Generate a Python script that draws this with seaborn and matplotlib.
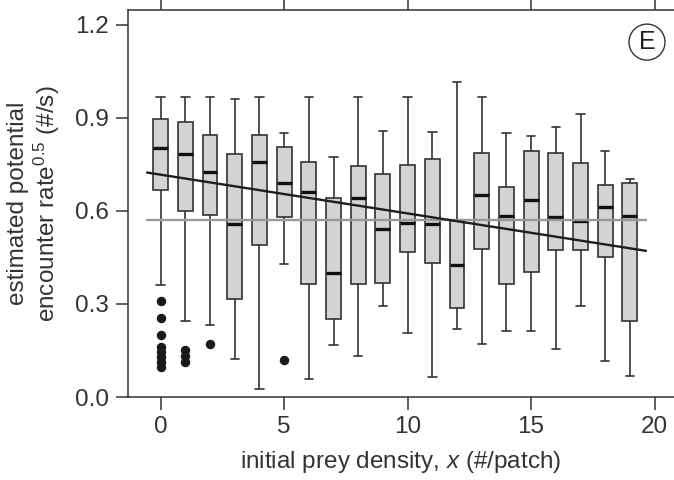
import numpy as np
import pandas as pd
import matplotlib
matplotlib.use("Agg")
import matplotlib.pyplot as plt
import seaborn as sns

# box summaries, one entry per initial prey density 0..19
density = list(range(20))
whisk_lo = [0.361, 0.246, 0.232, 0.124, 0.025, 0.429, 0.057, 0.168, 0.132, 0.295,
            0.205, 0.066, 0.218, 0.170, 0.214, 0.214, 0.154, 0.295, 0.116, 0.068]
q1 = [0.668, 0.600, 0.587, 0.315, 0.489, 0.582, 0.366, 0.252, 0.365, 0.369,
      0.467, 0.431, 0.286, 0.476, 0.363, 0.402, 0.474, 0.474, 0.451, 0.246]
median = [0.804, 0.783, 0.727, 0.557, 0.757, 0.689, 0.661, 0.399, 0.641, 0.541,
          0.560, 0.557, 0.426, 0.653, 0.585, 0.634, 0.580, 0.567, 0.613, 0.585]
q3 = [0.897, 0.888, 0.845, 0.784, 0.845, 0.806, 0.757, 0.642, 0.746, 0.718,
      0.748, 0.769, 0.566, 0.788, 0.676, 0.794, 0.786, 0.754, 0.685, 0.690]
whisk_hi = [0.967, 0.967, 0.967, 0.962, 0.967, 0.851, 0.967, 0.773, 0.967, 0.858,
            0.969, 0.854, 1.017, 0.969, 0.852, 0.842, 0.871, 0.914, 0.794, 0.702]
outliers = {
    0: [0.310, 0.254, 0.200, 0.162, 0.146, 0.130, 0.114, 0.098],
    1: [0.152, 0.132, 0.114],
    2: [0.170],
    5: [0.119],
}

# fitted trend and overall mean
fit_intercept = 0.717
fit_slope = -0.0125
mean_rate = 0.572

# rebuild samples that give exactly these quartiles / whiskers
rows = []
for i, x in enumerate(density):
    vals = ([whisk_lo[i]] + [q1[i]] * 20 + [median[i]] * 20 + [q3[i]] * 20
            + [whisk_hi[i]] + outliers.get(x, []))
    for v in vals:
        rows.append({"x": x, "y": v, "has_out": x in outliers})
df = pd.DataFrame(rows)

sns.set_style("ticks")
plt.rcParams["font.family"] = ["Liberation Sans", "DejaVu Sans"]
plt.rcParams["mathtext.fontset"] = "custom"
plt.rcParams["mathtext.rm"] = "Liberation Sans"
plt.rcParams["mathtext.it"] = "Liberation Sans:italic"

edge = "#333333"
fig = plt.figure(figsize=(6.74, 4.8), dpi=100)
# axes run past the right edge of the canvas, as in the cropped original
ax = fig.add_axes([128 / 674, 83 / 480, 566 / 674, 387 / 480])

box_kws = dict(
    orient="x", native_scale=True, width=0.6, color="#d3d3d3", linecolor=edge,
    linewidth=1.2, capwidths=0.34, ax=ax,
    medianprops=dict(color="#111111", linewidth=2.4),
    flierprops=dict(marker="o", markerfacecolor="#1a1a1a",
                    markeredgecolor="#1a1a1a", markersize=5.8),
)
sns.boxplot(data=df[df["has_out"]], x="x", y="y", whis=1.5, **box_kws)
sns.boxplot(data=df[~df["has_out"]], x="x", y="y", whis=(0, 100), **box_kws)

xs = np.array([-0.55, 19.65])
ax.plot(xs, [mean_rate, mean_rate], color="#999999", lw=1.7, zorder=3)
ax.plot(xs, fit_intercept + fit_slope * xs, color="#1e1e1e", lw=1.7, zorder=4)

ax.set_xlim(-1.32, -1.32 + 566 / 24.7)
ax.set_ylim(0, 1.248)
ax.set_xticks([0, 5, 10, 15, 20])
ax.set_yticks([0.0, 0.3, 0.6, 0.9, 1.2])
ax.set_yticklabels(["0.0", "0.3", "0.6", "0.9", "1.2"])
ax.tick_params(axis="both", direction="out", length=9, width=1.1,
               color=edge, labelsize=17.5, labelcolor="#333333", pad=5)
ax.tick_params(axis="x", top=True)
for side in ["left", "bottom", "top"]:
    ax.spines[side].set_visible(True)
    ax.spines[side].set_color(edge)
    ax.spines[side].set_linewidth(1.1)
ax.spines["right"].set_visible(False)

ax.set_xlabel("initial prey density, $x$ (#/patch)", fontsize=17.5, color="#333333")
ax.set_ylabel("estimated potential\nencounter rate$^{0.5}$ (#/s)", fontsize=17.5,
              color="#333333", linespacing=1.1)
ax.xaxis.set_label_coords((401 - 128) / 566, -0.135)
ax.yaxis.set_label_coords(-0.117, 0.5)

ax.text((647 - 128) / 566, 0.917, "E", transform=ax.transAxes, ha="center",
        va="center", fontsize=18, color="#222222",
        bbox=dict(boxstyle="circle,pad=0.24", fc="white", ec=edge, lw=1.0))

fig.savefig("out.png", dpi=100)
